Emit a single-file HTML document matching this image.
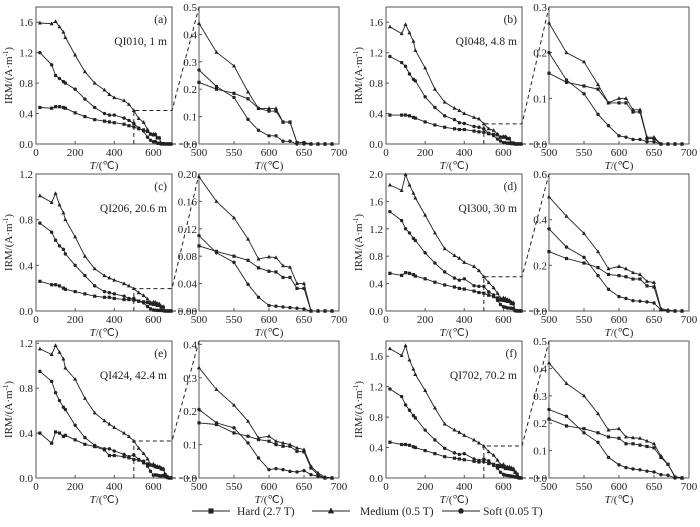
<!DOCTYPE html>
<html><head><meta charset="utf-8">
<style>
body{margin:0;background:#fff;}
svg text{font-family:"Liberation Serif",serif;fill:#222;}
</style></head>
<body>
<svg id="chart" width="700" height="522" viewBox="0 0 700 522" xmlns="http://www.w3.org/2000/svg"></svg>
<script>
const temps=[20,80,100,120,140,150,200,250,300,350,375,400,450,475,500,525,550,570,585,600,610,620,630,640,650,660,670,680,690];
const panelIds=["a","b","c","d","e","f"];
const sampleNames=["QI010, 1 m","QI048, 4.8 m","QI206, 20.6 m","QI300, 30 m","QI424, 42.4 m","QI702, 70.2 m"];
const mainMax=[1.8,1.8,1.2,2.0,1.22,1.8];
const mainTicks=[[0,0.4,0.8,1.2,1.6],[0,0.4,0.8,1.2,1.6],[0,0.4,0.8,1.2],[0,0.4,0.8,1.2,1.6,2.0],[0,0.4,0.8,1.2],[0,0.4,0.8,1.2,1.6]];
const insetMax=[0.5,0.3,0.2,0.6,0.41,0.5];
const insetTicks=[[0,0.1,0.2,0.3,0.4,0.5],[0,0.1,0.2,0.3],[0,0.04,0.08,0.12,0.16,0.2],[0,0.2,0.4,0.6],[0,0.1,0.2,0.3,0.4],[0,0.1,0.2,0.3,0.4,0.5]];
const insetDecimals=[1,1,2,1,1,1];
const aMedium=[1.59,1.58,1.61,1.54,1.47,1.40,1.17,0.95,0.80,0.71,0.65,0.61,0.57,0.52,0.44,0.335,0.285,0.19,0.13,0.13,0.13,0.08,0.08,0.005,0.005,0,0,0,0];
const aSoft=[1.2,1.04,0.9,0.86,0.82,0.80,0.72,0.59,0.48,0.40,0.38,0.38,0.34,0.31,0.27,0.21,0.17,0.09,0.05,0.03,0.03,0.01,0.01,0,0,0,0,0,0];
const aHard=[0.48,0.47,0.49,0.49,0.48,0.47,0.41,0.36,0.32,0.30,0.29,0.28,0.26,0.24,0.225,0.2,0.185,0.165,0.13,0.12,0.12,0.08,0.08,0.005,0.005,0,0,0,0];
const bMedium=[1.54,1.45,1.57,1.46,1.35,1.23,1.0,0.72,0.55,0.47,0.44,0.40,0.35,0.33,0.265,0.2,0.18,0.13,0.09,0.1,0.1,0.075,0.075,0.015,0.015,0,0,0,0];
const bSoft=[1.15,1.07,1.02,0.92,0.85,0.83,0.62,0.48,0.37,0.32,0.28,0.27,0.23,0.22,0.2,0.14,0.11,0.065,0.04,0.018,0.015,0.01,0.01,0.005,0.005,0,0,0,0];
const bHard=[0.38,0.38,0.38,0.37,0.35,0.34,0.29,0.25,0.22,0.2,0.19,0.19,0.17,0.16,0.155,0.135,0.127,0.12,0.09,0.09,0.09,0.07,0.07,0.012,0.012,0,0,0,0];
const cMedium=[1.01,0.95,1.03,0.93,0.86,0.80,0.65,0.48,0.37,0.31,0.29,0.27,0.24,0.22,0.196,0.16,0.136,0.105,0.076,0.079,0.078,0.066,0.064,0.04,0.04,0,0,0,0];
const cSoft=[0.77,0.69,0.62,0.57,0.54,0.50,0.40,0.31,0.22,0.17,0.16,0.15,0.13,0.11,0.11,0.085,0.071,0.039,0.02,0.008,0.007,0.006,0.005,0.004,0.003,0,0,0,0];
const cHard=[0.26,0.23,0.23,0.22,0.20,0.19,0.17,0.15,0.13,0.12,0.12,0.11,0.10,0.10,0.095,0.087,0.08,0.074,0.063,0.058,0.057,0.049,0.049,0.033,0.033,0,0,0,0];
const dMedium=[1.84,1.76,1.99,1.84,1.72,1.65,1.4,1.14,0.91,0.81,0.77,0.71,0.65,0.59,0.5,0.415,0.34,0.26,0.185,0.195,0.185,0.168,0.16,0.13,0.125,0.01,0.005,0,0];
const dSoft=[1.45,1.32,1.2,1.14,1.06,1.03,0.85,0.7,0.57,0.48,0.45,0.47,0.37,0.36,0.36,0.28,0.235,0.155,0.095,0.063,0.055,0.045,0.043,0.04,0.035,0.005,0,0,0];
const dHard=[0.55,0.52,0.56,0.55,0.53,0.51,0.47,0.42,0.38,0.35,0.33,0.32,0.29,0.27,0.26,0.23,0.21,0.19,0.16,0.155,0.15,0.14,0.14,0.11,0.105,0.005,0,0,0];
const eMedium=[1.15,1.10,1.18,1.12,1.06,0.98,0.88,0.71,0.58,0.51,0.48,0.45,0.40,0.37,0.33,0.265,0.218,0.17,0.12,0.125,0.11,0.105,0.1,0.09,0.085,0.035,0.015,0.003,0];
const eSoft=[0.95,0.86,0.76,0.69,0.63,0.61,0.47,0.36,0.29,0.26,0.26,0.24,0.21,0.19,0.205,0.165,0.15,0.105,0.06,0.025,0.028,0.025,0.02,0.018,0.022,0.01,0.005,0,0];
const eHard=[0.40,0.31,0.41,0.40,0.37,0.38,0.34,0.30,0.28,0.25,0.20,0.20,0.19,0.18,0.165,0.16,0.135,0.125,0.115,0.11,0.1,0.095,0.095,0.08,0.078,0.03,0.01,0,0];
const fMedium=[1.7,1.61,1.74,1.55,1.43,1.36,1.15,0.92,0.71,0.63,0.6,0.56,0.5,0.46,0.42,0.345,0.3,0.235,0.175,0.18,0.15,0.147,0.145,0.135,0.125,0.08,0.05,0.005,0];
const fSoft=[1.17,1.07,0.96,0.89,0.82,0.79,0.63,0.50,0.39,0.33,0.31,0.32,0.25,0.23,0.25,0.225,0.165,0.13,0.075,0.048,0.038,0.033,0.03,0.025,0.022,0.012,0.01,0,0];
const fHard=[0.47,0.44,0.44,0.43,0.41,0.40,0.36,0.32,0.28,0.26,0.25,0.24,0.22,0.21,0.215,0.19,0.18,0.165,0.15,0.145,0.125,0.125,0.12,0.115,0.11,0.075,0.05,0.003,0];
const seriesByPanel=[[aHard,aMedium,aSoft],[bHard,bMedium,bSoft],[cHard,cMedium,cSoft],[dHard,dMedium,dSoft],[eHard,eMedium,eSoft],[fHard,fMedium,fSoft]];
const seriesNames=["hard","medium","soft"];
const seriesMarkers=["square","triangle","circle"];
const mainXTicks=[0,200,400,600];
const insetXTicks=[500,550,600,650,700];

const NS="http://www.w3.org/2000/svg";
const svg=document.getElementById("chart");
function mk(tag,attrs,parent){const e=document.createElementNS(NS,tag);for(const k in attrs)e.setAttribute(k,attrs[k]);(parent||svg).appendChild(e);return e;}
function marker(g,type,x,y){
  let m;
  if(type==="square")m=mk("rect",{x:x-1.6,y:y-1.6,width:3.2,height:3.2,fill:"#222"},g);
  else if(type==="triangle")m=mk("polygon",{points:`${x},${y-2.2} ${x-2},${y+1.5} ${x+2},${y+1.5}`,fill:"#222"},g);
  else m=mk("circle",{cx:x,cy:y,r:1.7,fill:"#222"},g);
  return m;
}
const colLeft=[36,386], insetLeftArr=[199,549], rowTop=[7,174,341];
const mainW=136, insetW=140, H=137;
panelIds.forEach((pid,i)=>{
  const col=i%2,row=Math.floor(i/2);
  const mx=colLeft[col], ix=insetLeftArr[col], top=rowTop[row], bot=top+H;
  const g=mk("g",{});
  
  
  const sxM=t=>mx+t/695*mainW, syM=v=>bot-v/mainMax[i]*H;
  const sxI=t=>ix+(t-500)/200*insetW, syI=v=>bot-v/insetMax[i]*H;
  // boxes
  const b1=mk("rect",{x:mx,y:top,width:mainW,height:H,fill:"none",stroke:"#555","stroke-width":1},g);
  
  
  const b2=mk("rect",{x:ix,y:top,width:insetW,height:H,fill:"none",stroke:"#555","stroke-width":1},g);
  
  
  // ticks main
  mainXTicks.forEach(t=>{const x=sxM(t);mk("line",{x1:x,x2:x,y1:bot,y2:bot-3,stroke:"#555"},g);
    const tx=mk("text",{x:x,y:bot+12,"font-size":11,"text-anchor":"middle"},g);tx.textContent=t;
    });
  mainTicks[i].forEach(v=>{const y=syM(v);mk("line",{x1:mx,x2:mx+3,y1:y,y2:y,stroke:"#555"},g);
    const tx=mk("text",{x:mx-3,y:y+4,"font-size":11,"text-anchor":"end"},g);tx.textContent=v.toFixed(1);
    });
  insetXTicks.forEach(t=>{const x=sxI(t);mk("line",{x1:x,x2:x,y1:bot,y2:bot-3,stroke:"#555"},g);
    const tx=mk("text",{x:x,y:bot+12,"font-size":11,"text-anchor":"middle"},g);tx.textContent=t;
    });
  insetTicks[i].forEach(v=>{const y=syI(v);mk("line",{x1:ix,x2:ix+3,y1:y,y2:y,stroke:"#555"},g);
    const tx=mk("text",{x:ix-2,y:y+4,"font-size":11,"text-anchor":"end"},g);tx.textContent=v.toFixed(insetDecimals[i]);
    });
  // axis titles
  const yl=mk("text",{x:0,y:0,"font-size":11,"text-anchor":"middle",transform:`translate(${mx-24},${top+H/2}) rotate(-90)`},g);
  yl.innerHTML='IRM/(A·m<tspan baseline-shift="super" font-size="7">-1</tspan>)';
  
  [mx+mainW/2, ix+insetW/2].forEach(cx=>{const xl=mk("text",{x:cx,y:bot+25,"font-size":11,"text-anchor":"middle"},g);
    xl.innerHTML='<tspan font-style="italic">T</tspan>/(℃)';
    });
  const pl=mk("text",{x:mx+mainW-5,y:top+16,"font-size":11.5,"text-anchor":"end"},g);pl.textContent="("+pid+")";
  
  const sl=mk("text",{x:mx+mainW-5,y:top+38,"font-size":11.5,"text-anchor":"end"},g);sl.textContent=sampleNames[i];
  
  // zoom dashed lines
  const v500=seriesByPanel[i][1][temps.indexOf(500)];
  const yv=syM(v500), x5=sxM(500), rx=mx+mainW;
  const dz=mk("path",{d:`M${x5},${bot}L${x5},${yv}L${rx},${yv}L${ix},${top}M${rx},${bot}L${ix},${bot}`,fill:"none",stroke:"#222","stroke-width":1,"stroke-dasharray":"4,3"},g);
  
  // series
  seriesByPanel[i].forEach((vals,s)=>{
    const sg=mk("g",{},g);
    
    
    let d="";temps.forEach((t,k)=>{d+=(k?"L":"M")+sxM(t).toFixed(1)+","+syM(vals[k]).toFixed(1);});
    mk("path",{d:d,fill:"none",stroke:"#222","stroke-width":0.9},sg);
    temps.forEach((t,k)=>{const m=marker(sg,seriesMarkers[s],sxM(t),syM(vals[k]));
      });
    const ig=mk("g",{},g);
    
    
    let d2="",first=true;temps.forEach((t,k)=>{if(t<500)return;d2+=(first?"M":"L")+sxI(t).toFixed(1)+","+syI(vals[k]).toFixed(1);first=false;});
    mk("path",{d:d2,fill:"none",stroke:"#222","stroke-width":0.9},ig);
    temps.forEach((t,k)=>{if(t<500)return;const m=marker(ig,seriesMarkers[s],sxI(t),syI(vals[k]));
      });
  });
});
// legend
const legendLabels=["Hard (2.7 T)","Medium (0.5 T)","Soft (0.05 T)"];
const legendX=[192,312,442];
const legendTextX=[237,360,483];
legendLabels.forEach((lab,s)=>{
  const lg=mk("g",{});
  
  
  mk("line",{x1:legendX[s],x2:legendX[s]+38,y1:511,y2:511,stroke:"#222","stroke-width":1},lg);
  const m=marker(lg,seriesMarkers[s],legendX[s]+19,511);
  m.setAttribute('transform',`translate(${legendX[s]+19},511) scale(1.6) translate(${-(legendX[s]+19)},-511)`);
  const t=mk("text",{x:legendTextX[s],y:515,"font-size":11.5},lg);t.textContent=lab;
});
</script>
</body></html>
